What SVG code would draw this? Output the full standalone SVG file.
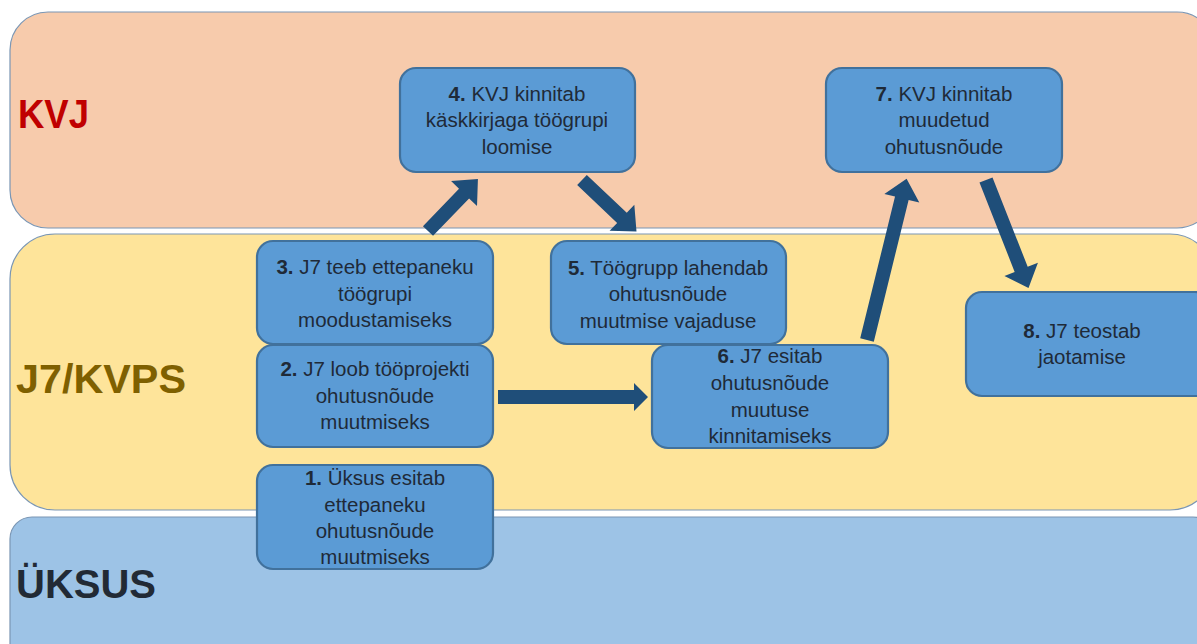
<svg xmlns="http://www.w3.org/2000/svg" width="1197" height="644" viewBox="0 0 1197 644">
<style>
.lane{stroke:#7A96B4;stroke-width:1.2}
.box rect{fill:#5B9BD5;stroke:#41719C;stroke-width:2.2}
.box text{font-family:"Liberation Sans",Arial,sans-serif;font-size:20.5px;fill:#1F2A38;text-anchor:middle}
.box tspan.b{font-weight:bold}
.lbl{font-family:"Liberation Sans",Arial,sans-serif;font-size:40px;font-weight:bold}
.arr{fill:#1F4E79}
</style>
<rect width="1197" height="644" fill="#FFFFFF"/>
<g id="lane-kvj">
<rect class="lane" x="10" y="12" width="1205" height="216" rx="38" fill="#F7CBAC"/>
<text class="lbl" x="18" y="128" fill="#C00000" textLength="71" lengthAdjust="spacingAndGlyphs">KVJ</text>
</g>
<g id="lane-j7">
<rect class="lane" x="10" y="234" width="1205" height="276" rx="45" fill="#FEE49A"/>
<text class="lbl" x="16" y="393" fill="#7F6000" textLength="170" lengthAdjust="spacingAndGlyphs">J7/KVPS</text>
</g>
<g id="lane-uksus">
<rect class="lane" x="10" y="517" width="1205" height="150" rx="22" fill="#9DC3E6"/>
<text class="lbl" x="16" y="598" fill="#222A35">ÜKSUS</text>
</g>
<g id="connectors">
<polygon class="arr" transform="translate(428,231) rotate(-46.1)" points="0,-7 52,-7 52,-18 72,0 52,18 52,7 0,7"/>
<polygon class="arr" transform="translate(582,180) rotate(43.4)" points="0,-7 55,-7 55,-18 75,0 55,18 55,7 0,7"/>
<polygon class="arr" transform="translate(498,397)" points="0,-7 136,-7 136,-14 150,0 136,14 136,7 0,7"/>
<polygon class="arr" transform="translate(867,340) rotate(-76.2)" points="0,-7 146,-7 146,-18 166,0 146,18 146,7 0,7"/>
<polygon class="arr" transform="translate(986,180) rotate(68.5)" points="0,-7 96,-7 96,-18 116,0 96,18 96,7 0,7"/>
</g>
<g id="node4" class="box">
<rect x="400" y="68" width="235" height="104" rx="16"/>
<text x="517" y="101"><tspan class="b">4.</tspan> KVJ kinnitab</text>
<text x="517" y="127">käskkirjaga töögrupi</text>
<text x="517" y="154">loomise</text>
</g>
<g id="node7" class="box">
<rect x="826" y="68" width="236" height="104" rx="16"/>
<text x="944" y="101"><tspan class="b">7.</tspan> KVJ kinnitab</text>
<text x="944" y="127">muudetud</text>
<text x="944" y="154">ohutusnõude</text>
</g>
<g id="node3" class="box">
<rect x="257" y="241" width="236" height="103" rx="16"/>
<text x="375" y="274"><tspan class="b">3.</tspan> J7 teeb ettepaneku</text>
<text x="375" y="301">töögrupi</text>
<text x="375" y="327">moodustamiseks</text>
</g>
<g id="node5" class="box">
<rect x="551" y="241" width="235" height="103" rx="16"/>
<text x="668" y="275"><tspan class="b">5.</tspan> Töögrupp lahendab</text>
<text x="668" y="301">ohutusnõude</text>
<text x="668" y="328">muutmise vajaduse</text>
</g>
<g id="node2" class="box">
<rect x="257" y="345" width="236" height="102" rx="16"/>
<text x="375" y="376"><tspan class="b">2.</tspan> J7 loob tööprojekti</text>
<text x="375" y="403">ohutusnõude</text>
<text x="375" y="429">muutmiseks</text>
</g>
<g id="node6" class="box">
<rect x="652" y="345" width="236" height="103" rx="16"/>
<text x="770" y="363"><tspan class="b">6.</tspan> J7 esitab</text>
<text x="770" y="390">ohutusnõude</text>
<text x="770" y="417">muutuse</text>
<text x="770" y="443">kinnitamiseks</text>
</g>
<g id="node8" class="box">
<rect x="966" y="292" width="245" height="104" rx="16"/>
<text x="1082" y="338"><tspan class="b">8.</tspan> J7 teostab</text>
<text x="1082" y="364">jaotamise</text>
</g>
<g id="node1" class="box">
<rect x="257" y="465" width="236" height="104" rx="16"/>
<text x="375" y="485"><tspan class="b">1.</tspan> Üksus esitab</text>
<text x="375" y="512">ettepaneku</text>
<text x="375" y="538">ohutusnõude</text>
<text x="375" y="564">muutmiseks</text>
</g>
</svg>
